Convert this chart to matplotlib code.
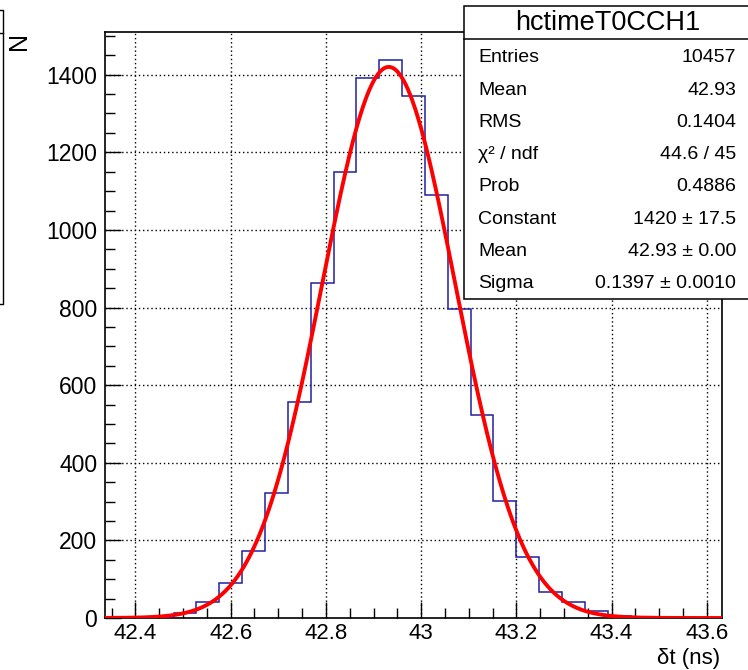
import numpy as np
import matplotlib
matplotlib.use("Agg")
import matplotlib.pyplot as plt
from matplotlib.patches import Rectangle
from matplotlib.lines import Line2D
from matplotlib.ticker import MultipleLocator

plt.rcParams['font.family'] = ['Liberation Sans', 'DejaVu Sans']

# histogram hctimeT0CCH1 (bins of 0.048 ns, shown range 42.336 - 43.632)
bin_lo = 42.336
bin_width = 0.048
counts = [0, 1, 3, 13, 42, 90, 173, 322, 556, 864, 1148, 1392, 1438, 1344,
          1089, 797, 522, 301, 158, 66, 42, 18, 4, 1, 0, 0, 0]

# gaussian fit result
fit_const = 1420.0
fit_mean = 42.932
fit_sigma = 0.1397

stat_names = ["Entries", "Mean", "RMS", "\u03c7\u00b2 / ndf", "Prob",
              "Constant", "Mean", "Sigma"]
stat_values = ["10457", "42.93", "0.1404", "44.6 / 45", "0.4886",
               "1420 \u00b1 17.5", "42.93 \u00b1 0.00", "0.1397 \u00b1 0.0010"]

x_ticks = [42.4, 42.6, 42.8, 43.0, 43.2, 43.4, 43.6]
x_ticklabels = ["42.4", "42.6", "42.8", "43", "43.2", "43.4", "43.6"]
y_ticks = [0, 200, 400, 600, 800, 1000, 1200, 1400]

W, H = 748, 670
def fx(px):
    return px / W
def fy(py):
    return 1 - py / H

fig = plt.figure(figsize=(7.48, 6.70), dpi=100)
ax = fig.add_axes([fx(105), fy(618), fx(722) - fx(105), fy(32) - fy(618)])

edges = bin_lo + bin_width * np.arange(len(counts) + 1)
x_hi = edges[-1]
ax.stairs(counts, edges, color='#2020a0', lw=1.1, zorder=3)

xf = np.linspace(bin_lo, x_hi, 600)
yf = fit_const * np.exp(-0.5 * ((xf - fit_mean) / fit_sigma) ** 2)
ax.plot(xf, yf, color='red', lw=2.8, zorder=4)

ax.set_xlim(bin_lo, x_hi)
ax.set_ylim(0, 1510)
ax.set_xticks(x_ticks)
ax.set_xticklabels(x_ticklabels)
ax.set_yticks(y_ticks)
ax.xaxis.set_minor_locator(MultipleLocator(0.05))
ax.yaxis.set_minor_locator(MultipleLocator(50))
ax.tick_params(which='both', direction='in', top=False, right=False,
               width=1.0, labelsize=16.5)
ax.tick_params(which='major', length=11.5)
ax.tick_params(which='minor', length=7)
ax.tick_params(axis='x', pad=3.5, labelsize=16)
ax.tick_params(axis='y', pad=5.5)
ax.grid(True, which='major', color='black', linestyle=(0, (1, 2)), lw=1.0)
for s in ax.spines.values():
    s.set_linewidth(1.2)

# axis titles
fig.text(fx(720), fy(664), "\u03b4t (ns)", ha='right', va='baseline', fontsize=16)
fig.text(fx(19), fy(32), "N", rotation=90, ha='center', va='top', fontsize=18)

# stats box
box_l, box_r, box_t, box_b, box_sep = 464, 752, 6, 299, 39
fig.add_artist(Rectangle((fx(box_l), fy(box_b)), fx(box_r) - fx(box_l), fy(box_t) - fy(box_b),
                         transform=fig.transFigure, facecolor='white', edgecolor='black',
                         lw=1.1, zorder=10))
fig.add_artist(Line2D([fx(box_l), fx(box_r)], [fy(box_sep), fy(box_sep)],
                      transform=fig.transFigure, color='black', lw=1.1, zorder=11))
fig.text(fx(608), fy(23), "hctimeT0CCH1", ha='center', va='center', fontsize=19.5, zorder=12)
for i, (name, val) in enumerate(zip(stat_names, stat_values)):
    yy = 58 + i * 32.2
    fig.text(fx(478), fy(yy), name, ha='left', va='center', fontsize=14, zorder=12)
    fig.text(fx(736), fy(yy), val, ha='right', va='center', fontsize=14, zorder=12)

# edge of a neighbouring box on the left
fig.add_artist(Line2D([fx(-2), fx(3), fx(3), fx(-2)], [fy(10), fy(10), fy(304), fy(304)],
                      transform=fig.transFigure, color='black', lw=1.0))
fig.add_artist(Line2D([fx(-2), fx(3)], [fy(33), fy(33)],
                      transform=fig.transFigure, color='black', lw=1.0))

fig.savefig("out.png", dpi=100)
